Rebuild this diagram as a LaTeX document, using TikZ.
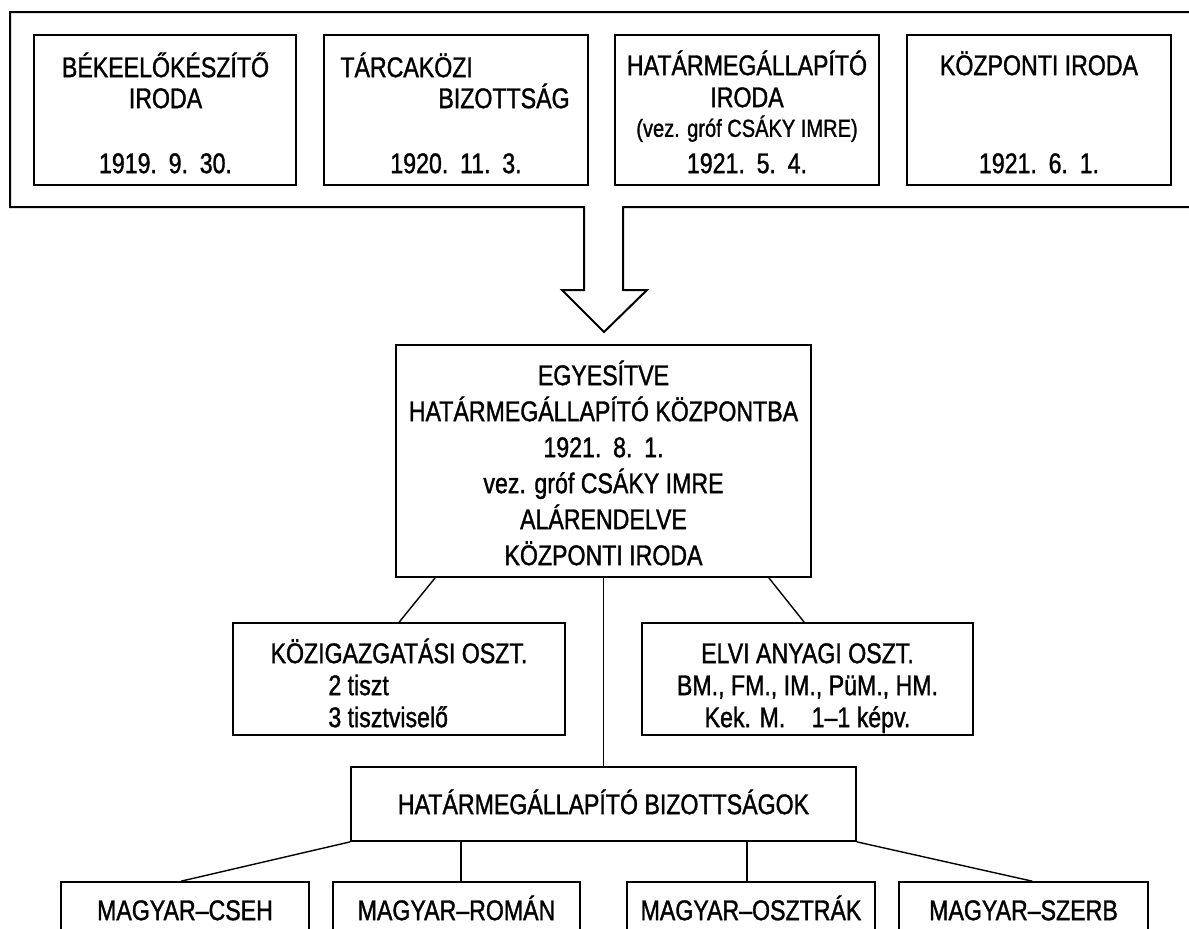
\documentclass[tikz,border=0pt]{standalone}
\usepackage{fontspec}
\setmainfont{Liberation Sans}[FakeStretch=0.815,FakeBold=1.2]
\usetikzlibrary{fit,calc}
\newcommand\dsp{\hspace{1.6pt} }
\begin{document}
\begin{tikzpicture}[x=0.5pt,y=-0.5pt,
  box/.style={draw, line width=0.85pt, inner sep=0pt},
  frame/.style={draw, line width=1pt, line join=miter},
  conn/.style={draw, line width=0.7pt},
  txt/.style={inner sep=0pt, text height=10.1pt, text depth=0pt, font=\fontsize{14.2}{16}\selectfont},
  smalltxt/.style={inner sep=0pt, text height=8.8pt, text depth=0pt, font=\fontsize{12.3}{14}\selectfont}]
\useasboundingbox (0,0) rectangle (1189,928);
\clip (0,0) rectangle (1189,928);
% outer frame with arrow
\draw[frame] (1210,12) -- (10,12) -- (10,207) -- (584,207) -- (584,290) -- (562,290) -- (604,332) -- (647,290) -- (623,290) -- (623,207) -- (1210,207);
% top boxes
\node[box, fit={(34,35) (296,185)}] (b1) {};
\node[txt] (b1a) at (165.5,67) {BÉKEELŐKÉSZÍTŐ};
\node[txt] (b1b) at (165.5,98) {IRODA};
\node[txt] (b1c) at (165.5,163) {1919.\dsp 9.\dsp 30.};
\node[box, fit={(324,35) (588,185)}] (b2) {};
\node[txt, anchor=west] (b2a) at (340,67) {TÁRCAKÖZI};
\node[txt, anchor=east] (b2b) at (570,98) {BIZOTTSÁG};
\node[txt] (b2c) at (456,163) {1920.\dsp 11.\dsp 3.};
\node[box, fit={(615,35) (879,185)}] (b3) {};
\node[txt] (b3a) at (747,65) {HATÁRMEGÁLLAPÍTÓ};
\node[txt] (b3b) at (747,97) {IRODA};
\node[smalltxt] (b3c) at (747,128) {(vez. gróf CSÁKY IMRE)};
\node[txt] (b3d) at (747,163) {1921.\dsp 5.\dsp 4.};
\node[box, fit={(907,35) (1171,185)}] (b4) {};
\node[txt] (b4a) at (1039,65) {KÖZPONTI IRODA};
\node[txt] (b4b) at (1039,163) {1921.\dsp 6.\dsp 1.};
% central box
\node[box, fit={(396,345) (811,577)}] (cen) {};
\node[txt] (c1) at (603.5,375) {EGYESÍTVE};
\node[txt] (c2) at (603.5,411) {HATÁRMEGÁLLAPÍTÓ KÖZPONTBA};
\node[txt] (c3) at (603.5,447) {1921.\dsp 8.\dsp 1.};
\node[txt] (c4) at (603.5,483) {vez. gróf CSÁKY IMRE};
\node[txt] (c5) at (603.5,519) {ALÁRENDELVE};
\node[txt] (c6) at (603.5,555) {KÖZPONTI IRODA};
% middle boxes
\node[box, fit={(233,623) (565,735)}] (kozig) {};
\node[txt] (k1) at (399,653) {KÖZIGAZGATÁSI OSZT.};
\node[txt, anchor=west] (k2) at (328,685) {2 tiszt};
\node[txt, anchor=west] (k3) at (328,717) {3 tisztviselő};
\node[box, fit={(642,623) (973,735)}] (elvi) {};
\node[txt] (e1) at (807.5,653) {ELVI ANYAGI OSZT.};
\node[txt] (e2) at (807.5,685) {BM., FM., IM., PüM., HM.};
\node[txt] (e3) at (807.5,717) {Kek. M.\hspace{10pt} 1–1 képv.};
% committees box
\node[box, fit={(351,767) (856,841)}] (hbiz) {};
\node[txt] (h1) at (603.5,804) {HATÁRMEGÁLLAPÍTÓ BIZOTTSÁGOK};
% bottom boxes (cut at page edge)
\node[box, fit={(61,882) (309,960)}] (cseh) {};
\node[txt] (t1) at (185,910) {MAGYAR–CSEH};
\node[box, fit={(333,882) (580,960)}] (roman) {};
\node[txt] (t2) at (456.5,910) {MAGYAR–ROMÁN};
\node[box, fit={(627,882) (875,960)}] (osztrak) {};
\node[txt] (t3) at (751,910) {MAGYAR–OSZTRÁK};
\node[box, fit={(899,882) (1148,960)}] (szerb) {};
\node[txt] (t4) at (1023.5,910) {MAGYAR–SZERB};
% connectors
\coordinate (cl) at ($(cen.south west)+(40,0)$);
\coordinate (cr) at ($(cen.south east)+(-43,0)$);
\coordinate (kt) at ($(kozig.north west)+(167,0)$);
\coordinate (et) at ($(elvi.north west)+(163,0)$);
\draw[conn] (cl) -- (kt);
\draw[conn] (cr) -- (et);
\draw[conn] (cen.south) -- (hbiz.north);
\coordinate (ct) at ($(cseh.north west)+(121,0)$);
\coordinate (st) at ($(szerb.north west)+(134,0)$);
\coordinate (rb) at ($(hbiz.south west)+(111,0)$);
\coordinate (ob) at ($(hbiz.south west)+(397,0)$);
\draw[conn] (hbiz.south west) -- (ct);
\draw[conn] (rb) -- (rb |- roman.north);
\draw[conn] (ob) -- (ob |- osztrak.north);
\draw[conn] (hbiz.south east) -- (st);
\end{tikzpicture}
\end{document}
